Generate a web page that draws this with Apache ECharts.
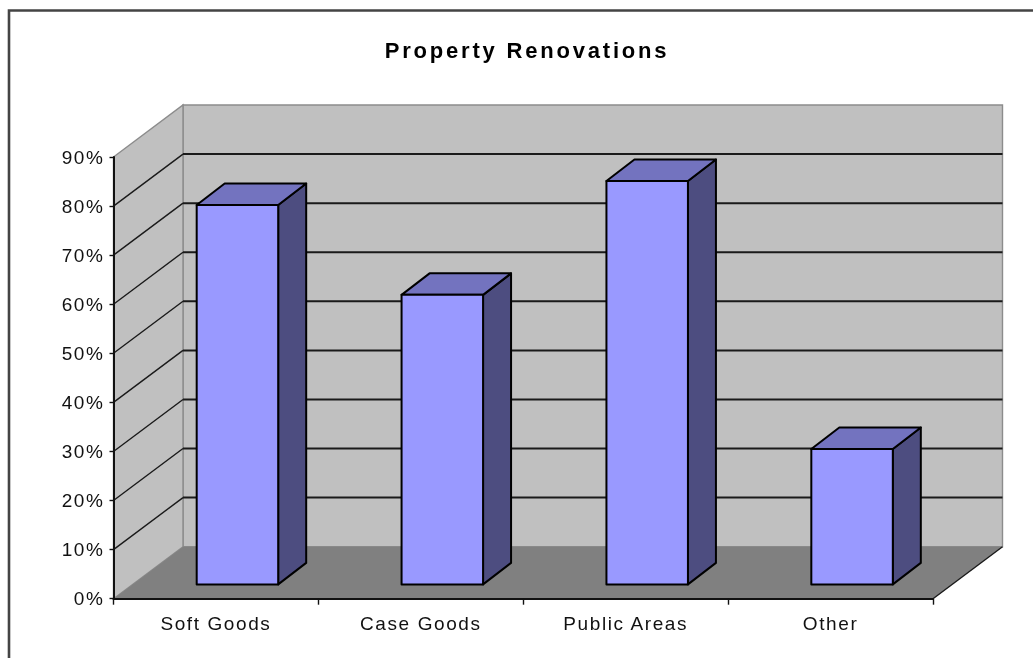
<!DOCTYPE html>
<html>
<head>
<meta charset="utf-8">
<style>
html,body{margin:0;padding:0;background:#fff}
#chart{width:1033px;height:658px;filter:blur(0.35px)}
#chart text{letter-spacing:1.6px}
#chart text.t{letter-spacing:2.8px}
</style>
<script src="https://cdn.jsdelivr.net/npm/echarts@6/dist/echarts.min.js"></script>
</head>
<body>
<div id="chart"></div>
<script>
const titleText = 'Property Renovations';
const categories = ['Soft Goods', 'Case Goods', 'Public Areas', 'Other'];
const renovationShare = [77.3, 59, 82.2, 27.6];
const yTicks = [0, 10, 20, 30, 40, 50, 60, 70, 80, 90];

const WALL_DX = 69.5, WALL_DY = -52;
const BAR_WIDTH = 81.5, BAR_SHIFT_X = 21.5, BAR_SHIFT_Y = -14.3, BAR_DX = 28, BAR_DY = -21.5;

function renderRoom(params, api) {
  const c = params.coordSys;
  const l = c.x, r = c.x + c.width, t = c.y, b = c.y + c.height;
  const poly = (points, fill, stroke, lw) => ({
    type: 'polygon', shape: { points },
    style: { fill, stroke: stroke || 'none', lineWidth: lw || 1 }
  });
  const line = (x1, y1, x2, y2, stroke, lw) => ({
    type: 'line', shape: { x1, y1, x2, y2 }, style: { stroke, lineWidth: lw || 1 }
  });
  const children = [
    poly([[l + WALL_DX, t + WALL_DY], [r + WALL_DX, t + WALL_DY], [r + WALL_DX, b + WALL_DY], [l + WALL_DX, b + WALL_DY]], '#c0c0c0', '#8c8c8c', 1.4),
    poly([[l, t], [l + WALL_DX, t + WALL_DY], [l + WALL_DX, b + WALL_DY], [l, b]], '#c0c0c0', '#8c8c8c', 1.4),
    poly([[l, b], [l + WALL_DX, b + WALL_DY], [r + WALL_DX, b + WALL_DY], [r, b]], '#808080')
  ];
  yTicks.slice(1, -1).forEach(v => {
    const y = api.coord([0, v])[1];
    children.push(line(l, y, l + WALL_DX, y + WALL_DY, '#1a1a1a', 1.4));
    children.push(line(l + WALL_DX, y + WALL_DY, r + WALL_DX, y + WALL_DY, '#1a1a1a', 2));
  });
  children.push(line(r, b, r + WALL_DX, b + WALL_DY, '#1a1a1a', 1.4));
  return { type: 'group', children };
}

function renderBar(params, api) {
  const top = api.coord([api.value(0), api.value(1)]);
  const base = api.coord([api.value(0), 0]);
  const x0 = top[0] + BAR_SHIFT_X - BAR_WIDTH / 2, x1 = x0 + BAR_WIDTH;
  const y0 = top[1] + BAR_SHIFT_Y, y1 = base[1] + BAR_SHIFT_Y;
  const edge = { stroke: '#000', lineWidth: 2, lineJoin: 'round' };
  return {
    type: 'group',
    children: [
      { type: 'polygon', shape: { points: [[x1, y0], [x1 + BAR_DX, y0 + BAR_DY], [x1 + BAR_DX, y1 + BAR_DY], [x1, y1]] }, style: { fill: '#4d4d80', ...edge } },
      { type: 'polygon', shape: { points: [[x0, y0], [x0 + BAR_DX, y0 + BAR_DY], [x1 + BAR_DX, y0 + BAR_DY], [x1, y0]] }, style: { fill: '#7373bf', ...edge } },
      { type: 'rect', shape: { x: x0, y: y0, width: BAR_WIDTH, height: y1 - y0 }, style: { fill: '#9999ff', ...edge } }
    ]
  };
}

const chart = echarts.init(document.getElementById('chart'), null, { renderer: 'svg' });
chart.setOption({
  animation: false,
  backgroundColor: '#fff',
  title: {
    text: titleText, left: 522, top: 34, textAlign: 'center',
    textStyle: { fontFamily: 'Liberation Sans', fontSize: 22, fontWeight: 'bold', color: '#000' }
  },
  grid: { left: 113.5, right: 100, top: 157, bottom: 59.3, containLabel: false },
  xAxis: {
    type: 'category', data: categories, z: 5,
    axisLine: { lineStyle: { color: '#111', width: 2 } },
    axisTick: { show: true, length: 6, lineStyle: { color: '#111', width: 1.4 } },
    axisLabel: { margin: 15, fontFamily: 'Liberation Sans', fontSize: 19, color: '#111' },
    splitLine: { show: false }
  },
  yAxis: {
    type: 'value', min: 0, max: 90, interval: 10, z: 5,
    axisLine: { show: true, lineStyle: { color: '#111', width: 2 } },
    axisTick: { show: true, length: 4, lineStyle: { color: '#111', width: 1.4 } },
    axisLabel: { margin: 9, formatter: '{value}%', fontFamily: 'Liberation Sans', fontSize: 19, color: '#111' },
    splitLine: { show: false }
  },
  series: [
    { type: 'custom', silent: true, z: 1, data: [[0, 0]], renderItem: renderRoom, clip: false },
    { type: 'custom', silent: true, z: 2, data: categories.map((c, i) => [i, renovationShare[i]]), renderItem: renderBar, clip: false, encode: { x: 0, y: 1 } }
  ],
  graphic: [{
    type: 'polyline', silent: true, z: 10,
    shape: { points: [[9, 658], [9, 10.5], [1033, 10.5]] },
    style: { fill: 'none', stroke: '#444', lineWidth: 2.6 }
  }]
});
document.querySelectorAll('#chart text').forEach(el => {
  if (el.textContent === titleText) el.setAttribute('class', 't');
});
</script>
</body>
</html>
